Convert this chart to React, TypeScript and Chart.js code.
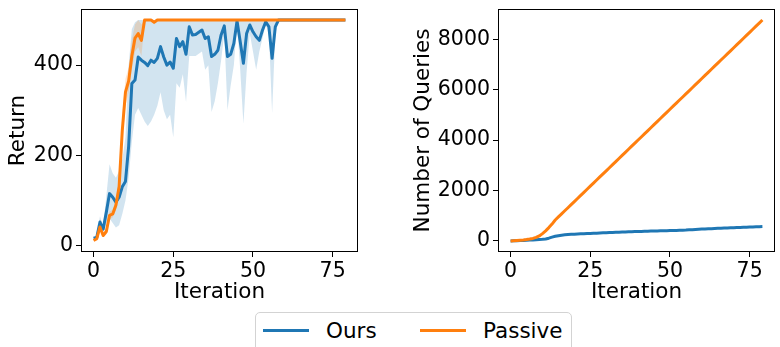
import React, { useEffect, useRef } from "react";
import { Chart, registerables } from "chart.js";

Chart.register(...registerables);

// ---------------- data ----------------
const iterations: number[] = [
  0, 1, 2, 3, 4, 5, 6, 7, 8, 9, 10, 11, 12, 13, 14, 15, 16, 17, 18, 19,
  20, 21, 22, 23, 24, 25, 26, 27, 28, 29, 30, 31, 32, 33, 34, 35, 36, 37, 38, 39,
  40, 41, 42, 43, 44, 45, 46, 47, 48, 49, 50, 51, 52, 53, 54, 55, 56, 57, 58, 59,
  60, 61, 62, 63, 64, 65, 66, 67, 68, 69, 70, 71, 72, 73, 74, 75, 76, 77, 78, 79,
];

const oursReturn: number[] = [
  16, 18, 52, 36, 74, 115, 107, 96, 107, 130, 142, 220, 359, 367, 418, 411, 406, 399, 411, 406,
  415, 441, 418, 400, 407, 393, 459, 441, 452, 424, 485, 467, 468, 473, 478, 459, 463, 419, 424, 433,
  467, 487, 419, 424, 448, 498, 452, 404, 470, 489, 474, 463, 455, 478, 496, 485, 415, 485, 500, 500,
  500, 500, 500, 500, 500, 500, 500, 500, 500, 500, 500, 500, 500, 500, 500, 500, 500, 500, 500, 500,
];
const oursReturnLow: number[] = [
  14, 15, 40, 30, 50, 60, 50, 40, 45, 70, 100, 150, 230, 290, 305, 290, 275, 265, 275, 290,
  310, 340, 300, 280, 290, 240, 360, 350, 380, 318, 420, 420, 420, 425, 430, 390, 400, 296, 320, 360,
  410, 470, 300, 355, 400, 490, 390, 270, 385, 470, 430, 390, 430, 460, 490, 470, 293, 470, 500, 500,
  500, 500, 500, 500, 500, 500, 500, 500, 500, 500, 500, 500, 500, 500, 500, 500, 500, 500, 500, 500,
];
const oursReturnHigh: number[] = [
  18, 22, 65, 42, 110, 180, 160, 150, 165, 190, 240, 400, 480, 495, 500, 500, 500, 500, 500, 500,
  500, 500, 500, 500, 500, 500, 500, 500, 500, 500, 500, 500, 500, 500, 500, 500, 500, 500, 500, 500,
  500, 500, 500, 500, 500, 500, 500, 500, 500, 500, 500, 500, 500, 500, 500, 500, 500, 500, 500, 500,
  500, 500, 500, 500, 500, 500, 500, 500, 500, 500, 500, 500, 500, 500, 500, 500, 500, 500, 500, 500,
];

const passiveReturn: number[] = [
  11, 15, 41, 22, 31, 67, 70, 89, 130, 255, 340, 365, 420, 460, 470, 455, 500, 500, 500, 495,
  500, 500, 500, 500, 500, 500, 500, 500, 500, 500, 500, 500, 500, 500, 500, 500, 500, 500, 500, 500,
  500, 500, 500, 500, 500, 500, 500, 500, 500, 500, 500, 500, 500, 500, 500, 500, 500, 500, 500, 500,
  500, 500, 500, 500, 500, 500, 500, 500, 500, 500, 500, 500, 500, 500, 500, 500, 500, 500, 500, 500,
];
const passiveReturnLow: number[] = [
  9, 12, 32, 18, 25, 58, 62, 78, 110, 225, 310, 340, 390, 430, 440, 420, 495, 500, 500, 490,
  500, 500, 500, 500, 500, 500, 500, 500, 500, 500, 500, 500, 500, 500, 500, 500, 500, 500, 500, 500,
  500, 500, 500, 500, 500, 500, 500, 500, 500, 500, 500, 500, 500, 500, 500, 500, 500, 500, 500, 500,
  500, 500, 500, 500, 500, 500, 500, 500, 500, 500, 500, 500, 500, 500, 500, 500, 500, 500, 500, 500,
];
const passiveReturnHigh: number[] = [
  13, 18, 55, 28, 38, 75, 80, 100, 150, 290, 370, 395, 455, 490, 500, 490, 500, 500, 500, 500,
  500, 500, 500, 500, 500, 500, 500, 500, 500, 500, 500, 500, 500, 500, 500, 500, 500, 500, 500, 500,
  500, 500, 500, 500, 500, 500, 500, 500, 500, 500, 500, 500, 500, 500, 500, 500, 500, 500, 500, 500,
  500, 500, 500, 500, 500, 500, 500, 500, 500, 500, 500, 500, 500, 500, 500, 500, 500, 500, 500, 500,
];

const oursQueries: number[] = [
  0, 5, 10, 15, 20, 28, 35, 42, 50, 58, 66, 80, 110, 150, 185, 210, 230, 245, 255, 262,
  270, 276, 282, 288, 294, 300, 305, 310, 316, 321, 327, 332, 337, 342, 347, 352, 356, 361, 366, 370,
  375, 379, 383, 387, 391, 395, 399, 402, 405, 408, 412, 415, 419, 423, 427, 432, 440, 448, 456, 463,
  470, 476, 482, 488, 494, 500, 505, 510, 515, 520, 525, 530, 535, 540, 545, 550, 555, 560, 565, 570,
];
const passiveQueries: number[] = [
  0, 8, 18, 28, 40, 55, 75, 100, 140, 200, 290, 400, 530, 670, 830, 952, 1074, 1196, 1318, 1440,
  1562, 1684, 1806, 1928, 2050, 2172, 2294, 2416, 2538, 2660, 2782, 2904, 3026, 3148, 3270, 3392, 3514, 3636, 3758, 3880,
  4002, 4124, 4246, 4368, 4490, 4612, 4734, 4856, 4978, 5100, 5222, 5344, 5466, 5588, 5710, 5832, 5954, 6076, 6198, 6320,
  6442, 6564, 6686, 6808, 6930, 7052, 7174, 7296, 7418, 7540, 7662, 7784, 7906, 8028, 8150, 8272, 8394, 8516, 8638, 8760,
];

const xTicks: number[] = [0, 25, 50, 75];
const returnTicks: number[] = [0, 200, 400];
const queryTicks: number[] = [0, 2000, 4000, 6000, 8000];
const seriesNames: string[] = ["Ours", "Passive"];

// ---------------- style ----------------
const FONT = "'DejaVu Sans', sans-serif";
const BLUE = "#1f77b4";
const ORANGE = "#ff7f0e";
const BLUE_FILL = "rgba(31,119,180,0.2)";
const ORANGE_FILL = "rgba(255,127,14,0.2)";
const TICK_SIZE = 20.5;
const LABEL_SIZE = 21.5;

const pts = (arr: number[]) => arr.map((y, i) => ({ x: iterations[i], y }));

const frameBox = {
  id: "frameBox",
  afterDatasetsDraw(chart: any) {
    const { ctx, chartArea: a } = chart;
    ctx.save();
    ctx.strokeStyle = "#000";
    ctx.lineWidth = 1;
    const l = Math.round(a.left) + 0.5;
    const t = Math.round(a.top) + 0.5;
    const r = Math.round(a.right) - 0.5;
    const b = Math.round(a.bottom) - 0.5;
    ctx.strokeRect(l, t, r - l, b - t);
    ctx.restore();
  },
};

function makeScales(opts: {
  yMin: number;
  yMax: number;
  yTicks: number[];
  yTitle: string;
  yWidth: number;
  yTitlePad: number;
}) {
  return {
    x: {
      type: "linear",
      min: -3.95,
      max: 82.95,
      afterBuildTicks: (s: any) => {
        s.ticks = xTicks.map((v) => ({ value: v }));
      },
      afterFit: (s: any) => {
        s.height = 53;
        s.paddingLeft = 0;
        s.paddingRight = 0;
      },
      border: { display: false },
      grid: {
        display: true,
        drawOnChartArea: false,
        drawTicks: true,
        tickLength: 5,
        tickColor: "#000",
        lineWidth: 1,
      },
      ticks: {
        color: "#000",
        font: { family: FONT, size: TICK_SIZE },
        padding: 2,
        maxRotation: 0,
        autoSkip: false,
        callback: (v: any) => String(v),
      },
      title: {
        display: true,
        text: "Iteration",
        color: "#000",
        font: { family: FONT, size: LABEL_SIZE },
        padding: { top: 0, bottom: 0 },
      },
    },
    y: {
      type: "linear",
      min: opts.yMin,
      max: opts.yMax,
      afterBuildTicks: (s: any) => {
        s.ticks = opts.yTicks.map((v) => ({ value: v }));
      },
      afterFit: (s: any) => {
        s.width = opts.yWidth;
        s.paddingTop = 0;
        s.paddingBottom = 0;
      },
      border: { display: false },
      grid: {
        display: true,
        drawOnChartArea: false,
        drawTicks: true,
        tickLength: 5,
        tickColor: "#000",
        lineWidth: 1,
      },
      ticks: {
        color: "#000",
        font: { family: FONT, size: TICK_SIZE },
        padding: 3,
        autoSkip: false,
        callback: (v: any) => String(v),
      },
      title: {
        display: true,
        text: opts.yTitle,
        color: "#000",
        font: { family: FONT, size: LABEL_SIZE },
        padding: { top: opts.yTitlePad, bottom: 0 },
      },
    },
  };
}

function lineDs(label: string, data: number[], color: string, order: number) {
  return {
    label,
    data: pts(data),
    borderColor: color,
    backgroundColor: color,
    borderWidth: 3,
    borderJoinStyle: "round",
    borderCapStyle: "butt",
    pointRadius: 0,
    fill: false,
    tension: 0,
    order,
  };
}

function bandDs(label: string, data: number[], fill: any, color: string, order: number) {
  return {
    label,
    data: pts(data),
    borderColor: "rgba(0,0,0,0)",
    backgroundColor: color,
    borderWidth: 0,
    pointRadius: 0,
    fill,
    tension: 0,
    order,
  };
}

function leftConfig(): any {
  return {
    type: "line",
    data: {
      datasets: [
        lineDs(seriesNames[0], oursReturn, BLUE, 1),
        lineDs(seriesNames[1], passiveReturn, ORANGE, 0),
        bandDs("oursLow", oursReturnLow, 3, BLUE_FILL, 3),
        bandDs("oursHigh", oursReturnHigh, false, BLUE_FILL, 3),
        bandDs("passiveLow", passiveReturnLow, 5, ORANGE_FILL, 2),
        bandDs("passiveHigh", passiveReturnHigh, false, ORANGE_FILL, 2),
      ],
    },
    options: {
      responsive: false,
      animation: false,
      devicePixelRatio: 1,
      layout: { padding: { left: 0, top: 9, right: 22, bottom: 0 } },
      plugins: { legend: { display: false }, tooltip: { enabled: false } },
      scales: makeScales({
        yMin: -14.5,
        yMax: 524.5,
        yTicks: returnTicks,
        yTitle: "Return",
        yWidth: 81,
        yTitlePad: 6,
      }),
    },
    plugins: [frameBox],
  };
}

function rightConfig(): any {
  return {
    type: "line",
    data: {
      datasets: [
        lineDs(seriesNames[0], oursQueries, BLUE, 1),
        lineDs(seriesNames[1], passiveQueries, ORANGE, 0),
      ],
    },
    options: {
      responsive: false,
      animation: false,
      devicePixelRatio: 1,
      layout: { padding: { left: 0, top: 9, right: 5, bottom: 0 } },
      plugins: { legend: { display: false }, tooltip: { enabled: false } },
      scales: makeScales({
        yMin: -438,
        yMax: 9198,
        yTicks: queryTicks,
        yTitle: "Number of Queries",
        yWidth: 108,
        yTitlePad: 21,
      }),
    },
    plugins: [frameBox],
  };
}

function ChartCanvas(props: { make: () => any; left: number; width: number; height: number }) {
  const ref = useRef<HTMLCanvasElement>(null);
  useEffect(() => {
    const chart = new Chart(ref.current as HTMLCanvasElement, props.make());
    return () => chart.destroy();
  }, []);
  return (
    <canvas
      ref={ref}
      width={props.width}
      height={props.height}
      style={{
        position: "absolute",
        left: props.left,
        top: 0,
        width: props.width,
        height: props.height,
      }}
    />
  );
}

function Legend() {
  const colors = [BLUE, ORANGE];
  const lineX = [263, 420];
  const textX = [326, 483];
  return (
    <div>
      <div
        style={{
          position: "absolute",
          left: 255,
          top: 312,
          width: 317,
          height: 60,
          border: "1px solid #d3d3d3",
          borderRadius: 5,
          boxSizing: "border-box",
          background: "#fff",
        }}
      />
      {seriesNames.map((name, i) => (
        <React.Fragment key={name}>
          <div
            style={{
              position: "absolute",
              left: lineX[i],
              top: 328.5,
              width: 46,
              height: 3,
              background: colors[i],
            }}
          />
          <span
            style={{
              position: "absolute",
              left: textX[i],
              top: 319.5,
              fontFamily: FONT,
              fontSize: LABEL_SIZE,
              lineHeight: "21.5px",
              color: "#000",
              whiteSpace: "nowrap",
            }}
          >
            {name}
          </span>
        </React.Fragment>
      ))}
    </div>
  );
}

export default function App() {
  return (
    <div
      style={{
        position: "fixed",
        left: 0,
        top: 0,
        width: 780,
        height: 347,
        background: "#fff",
        overflow: "hidden",
      }}
    >
      <ChartCanvas make={leftConfig} left={0} width={380} height={305} />
      <ChartCanvas make={rightConfig} left={390} width={390} height={305} />
      <Legend />
    </div>
  );
}
